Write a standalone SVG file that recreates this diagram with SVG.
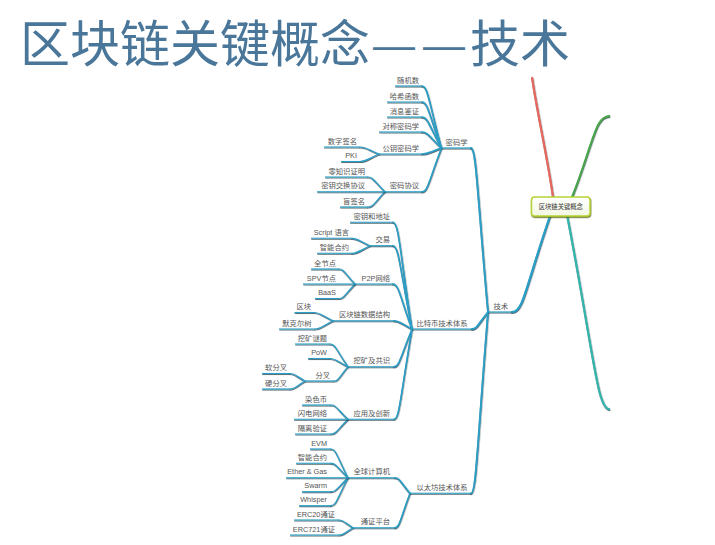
<svg xmlns="http://www.w3.org/2000/svg" width="715" height="545" viewBox="0 0 715 545">
<defs>
<filter id="sh" filterUnits="userSpaceOnUse" x="0" y="0" width="715" height="545">
<feDropShadow dx="0.3" dy="0.8" stdDeviation="0.2" flood-color="#15303b" flood-opacity="0.9"/>
</filter>
<filter id="boxsh" filterUnits="userSpaceOnUse" x="0" y="0" width="715" height="545">
<feDropShadow dx="0.5" dy="1.2" stdDeviation="0.4" flood-color="#5d6b1c" flood-opacity="0.9"/>
</filter>
<linearGradient id="boxg" x1="0" y1="0" x2="0" y2="1">
<stop offset="0" stop-color="#ffffff"/>
<stop offset="1" stop-color="#f3f7e2"/>
</linearGradient>
</defs>
<style>
.title{font-family:"Noto Sans CJK SC","Noto Sans",sans-serif;font-size:50px;fill:#4a7799}
.dash{font-family:"Liberation Sans",sans-serif;font-size:42px;letter-spacing:8px;fill:#4a7799}
.t{font-family:"Liberation Sans","Noto Sans CJK SC",sans-serif;font-size:7.3px;fill:#555;text-anchor:end}
.ct{font-family:"Liberation Sans","Noto Sans CJK SC",sans-serif;font-size:6.3px;fill:#333;text-anchor:middle}
.ul{fill:none;stroke:#2a9fc7;stroke-width:1.1;filter:url(#sh)}
.c{fill:none;stroke:#2a9fc7;stroke-linecap:round}
.w1{stroke-width:2.2}
.w2{stroke-width:1.8}
.w3{stroke-width:1.5}
.w4{stroke-width:1.2}
</style>
<rect width="715" height="545" fill="#ffffff"/>
<g id="title">
<text class="title" x="20" y="62">区块链关键概念</text>
<text class="dash" x="373" y="58.5">——</text>
<text class="title" x="470" y="62">技术</text>
</g>

<g id="connectors" filter="url(#sh)">
<path d="M553,197 C548,160 537,112 532,77" fill="none" stroke="#e8685c" stroke-width="2"/>
<path d="M572,197 C585,165 592,136 598.6,124 C602,118 606,116 610,116" fill="none" stroke="#4aa84b" stroke-width="2"/>
<path d="M610,409.3 C597.2,409.3 595,361 567.3,216" fill="none" stroke="#33b6ad" stroke-width="2"/>
<path class="c w1" d="M512,312 C523.4,312 525.3,288 550,216"/>
<path class="c w2" d="M471,148 C476.1,148 477,189 488,312"/>
<path class="c w2" d="M472,329 C476.8,329 477.6,324.75 488,312"/>
<path class="c w2" d="M471,493.3 C476.1,493.3 477,448 488,312"/>
<path class="c w3" d="M422,86 C427.85,86 428.8,101.5 441.5,148"/>
<path class="c w3" d="M422,102 C427.85,102 428.8,113.5 441.5,148"/>
<path class="c w3" d="M422,117 C427.85,117 428.8,124.75 441.5,148"/>
<path class="c w3" d="M422,132 C427.85,132 428.8,136 441.5,148"/>
<path class="c w3" d="M422,154 C427.85,154 428.8,152.5 441.5,148"/>
<path class="c w3" d="M422,191.7 C427.85,191.7 428.8,180.8 441.5,148"/>
<path class="c w4" d="M360,147 C365.7,147 366.65,148.75 379,154"/>
<path class="c w4" d="M360,161.5 C365.7,161.5 366.65,159.6 379,154"/>
<path class="c w4" d="M368,177 C373.1,177 373.95,180.7 385,191.7"/>
<path class="c w4" d="M368,207 C373.1,207 373.95,203.2 385,191.7"/>
<path class="c w3" d="M393,222.3 C398.7,222.3 399.65,249 412,329"/>
<path class="c w3" d="M393,245.7 C398.7,245.7 399.65,266.5 412,329"/>
<path class="c w3" d="M393,284 C398.7,284 399.65,295.25 412,329"/>
<path class="c w3" d="M394,320.7 C399.4,320.7 400.3,322.8 412,329"/>
<path class="c w3" d="M394,366.7 C399.4,366.7 400.3,357.3 412,329"/>
<path class="c w3" d="M394,419.3 C399.4,419.3 400.3,396.7 412,329"/>
<path class="c w4" d="M352,238.3 C357.4,238.3 358.3,240.15 370,245.7"/>
<path class="c w4" d="M352,253.3 C357.4,253.3 358.3,251.4 370,245.7"/>
<path class="c w4" d="M339,269 C343.8,269 344.6,272.75 355,284"/>
<path class="c w4" d="M339,298.5 C343.8,298.5 344.6,294.9 355,284"/>
<path class="c w4" d="M314,312.5 C319.7,312.5 320.65,314.55 333,320.7"/>
<path class="c w4" d="M315,329 C320.4,329 321.3,326.9 333,320.7"/>
<path class="c w4" d="M330,344 C335.4,344 336.3,349.7 348,366.7"/>
<path class="c w4" d="M330,358.5 C335.4,358.5 336.3,360.55 348,366.7"/>
<path class="c w4" d="M334,381 C338.2,381 338.9,377.4 348,366.7"/>
<path class="c w4" d="M290,373.5 C294.5,373.5 295.25,375.4 305,381"/>
<path class="c w4" d="M290,389 C294.5,389 295.25,387 305,381"/>
<path class="c w4" d="M331,405 C336.1,405 336.95,408.6 348,419.3"/>
<path class="c w4" d="M331,434 C336.1,434 336.95,430.3 348,419.3"/>
<path class="c w3" d="M395,477.7 C399.5,477.7 400.25,481.6 410,493.3"/>
<path class="c w3" d="M395,527.7 C399.5,527.7 400.25,519.1 410,493.3"/>
<path class="c w4" d="M331,449 C336.1,449 336.95,456.2 348,477.7"/>
<path class="c w4" d="M331,463.3 C336.1,463.3 336.95,466.9 348,477.7"/>
<path class="c w4" d="M331,491.7 C336.1,491.7 336.95,488.2 348,477.7"/>
<path class="c w4" d="M331,505.7 C336.1,505.7 336.95,498.7 348,477.7"/>
<path class="c w4" d="M339,520 C343.2,520 343.9,521.9 353,527.7"/>
<path class="c w4" d="M339,535 C343.2,535 343.9,533.2 353,527.7"/>
</g>

<g id="n-root">
<rect x="531.5" y="197" width="58.5" height="19" rx="3" fill="url(#boxg)" stroke="#b5d334" stroke-width="1.5" filter="url(#boxsh)"/>
<text class="ct" x="560.8" y="208.8">区块链关键概念</text>
</g>

<g id="n-tech"><path class="ul" d="M488,312H512"/><text class="t" x="508" y="308.7">技术</text></g>

<g id="n-crypto"><path class="ul" d="M441.5,148H471"/><text class="t" x="467.5" y="144.7">密码学</text></g>
<g id="n-c1"><path class="ul" d="M395,86H422"/><text class="t" x="419" y="82.7">随机数</text></g>
<g id="n-c2"><path class="ul" d="M387,102H422"/><text class="t" x="419" y="98.7">哈希函数</text></g>
<g id="n-c3"><path class="ul" d="M387,117H422"/><text class="t" x="419" y="113.7">消息鉴证</text></g>
<g id="n-c4"><path class="ul" d="M379,132H422"/><text class="t" x="419" y="128.7">对称密码学</text></g>
<g id="n-c5"><path class="ul" d="M379,154H422"/><text class="t" x="419" y="150.7">公钥密码学</text></g>
<g id="n-c5a"><path class="ul" d="M324,147H360"/><text class="t" x="357" y="143.7">数字签名</text></g>
<g id="n-c5b"><path class="ul" d="M341,161.5H360"/><text class="t" x="357" y="158.2">PKI</text></g>
<g id="n-c6"><path class="ul" d="M385,191.7H422"/><text class="t" x="419" y="188.4">密码协议</text></g>
<g id="n-c6a"><path class="ul" d="M325,177H368"/><text class="t" x="365" y="173.7">零知识证明</text></g>
<g id="n-c6b"><path class="ul" d="M317,191.7H385"/><text class="t" x="365" y="188.4">密钥交换协议</text></g>
<g id="n-c6c"><path class="ul" d="M340,207H368"/><text class="t" x="365" y="203.7">盲签名</text></g>

<g id="n-btc"><path class="ul" d="M412,329H472"/><text class="t" x="467.5" y="325.7">比特币技术体系</text></g>
<g id="n-b1"><path class="ul" d="M350,222.3H393"/><text class="t" x="390" y="219">密钥和地址</text></g>
<g id="n-b2"><path class="ul" d="M370,245.7H393"/><text class="t" x="390" y="242.4">交易</text></g>
<g id="n-b2a"><path class="ul" d="M311,238.3H352"/><text class="t" x="349" y="235">Script 语言</text></g>
<g id="n-b2b"><path class="ul" d="M317,253.3H352"/><text class="t" x="349" y="250">智能合约</text></g>
<g id="n-b3"><path class="ul" d="M355,284H393"/><text class="t" x="390" y="280.7">P2P网络</text></g>
<g id="n-b3a"><path class="ul" d="M311,269H339"/><text class="t" x="336" y="265.7">全节点</text></g>
<g id="n-b3b"><path class="ul" d="M303,284H355"/><text class="t" x="336" y="280.7">SPV节点</text></g>
<g id="n-b3c"><path class="ul" d="M315,298.5H339"/><text class="t" x="336" y="295.2">BaaS</text></g>
<g id="n-b4"><path class="ul" d="M333,320.7H394"/><text class="t" x="390" y="317.4">区块链数据结构</text></g>
<g id="n-b4a"><path class="ul" d="M294.5,312.5H314"/><text class="t" x="311" y="309.2">区块</text></g>
<g id="n-b4b"><path class="ul" d="M279,329H315"/><text class="t" x="311.5" y="325.7">默克尔树</text></g>
<g id="n-b5"><path class="ul" d="M348,366.7H394"/><text class="t" x="390" y="363.4">挖矿及共识</text></g>
<g id="n-b5a"><path class="ul" d="M295,344H330"/><text class="t" x="327" y="340.7">挖矿谜题</text></g>
<g id="n-b5b"><path class="ul" d="M308,358.5H330"/><text class="t" x="327" y="355.2">PoW</text></g>
<g id="n-b5c"><path class="ul" d="M305,381H334"/><text class="t" x="330" y="377.7">分叉</text></g>
<g id="n-b5c1"><path class="ul" d="M262,373.5H290"/><text class="t" x="287" y="370.2">软分叉</text></g>
<g id="n-b5c2"><path class="ul" d="M262,389H290"/><text class="t" x="287" y="385.7">硬分叉</text></g>
<g id="n-b6"><path class="ul" d="M348,419.3H394"/><text class="t" x="390" y="416">应用及创新</text></g>
<g id="n-b6a"><path class="ul" d="M302,405H331"/><text class="t" x="327" y="401.7">染色币</text></g>
<g id="n-b6b"><path class="ul" d="M294,419.3H348"/><text class="t" x="327" y="416">闪电网络</text></g>
<g id="n-b6c"><path class="ul" d="M295,434H331"/><text class="t" x="327" y="430.7">隔离验证</text></g>

<g id="n-eth"><path class="ul" d="M410,493.3H471"/><text class="t" x="467.5" y="490">以太坊技术体系</text></g>
<g id="n-e1"><path class="ul" d="M348,477.7H395"/><text class="t" x="390" y="474.4">全球计算机</text></g>
<g id="n-e1a"><path class="ul" d="M310,449H331"/><text class="t" x="327" y="445.7">EVM</text></g>
<g id="n-e1b"><path class="ul" d="M296,463.3H331"/><text class="t" x="327" y="460">智能合约</text></g>
<g id="n-e1c"><path class="ul" d="M286,477.7H348"/><text class="t" x="327" y="474.4">Ether &amp; Gas</text></g>
<g id="n-e1d"><path class="ul" d="M302,491.7H331"/><text class="t" x="327" y="488.4">Swarm</text></g>
<g id="n-e1e"><path class="ul" d="M299,505.7H331"/><text class="t" x="327" y="502.4">Whisper</text></g>
<g id="n-e2"><path class="ul" d="M353,527.7H395"/><text class="t" x="390" y="524.4">通证平台</text></g>
<g id="n-e2a"><path class="ul" d="M294,520H339"/><text class="t" x="335" y="516.7">ERC20通证</text></g>
<g id="n-e2b"><path class="ul" d="M290,535H339"/><text class="t" x="335" y="531.7">ERC721通证</text></g>
</svg>
